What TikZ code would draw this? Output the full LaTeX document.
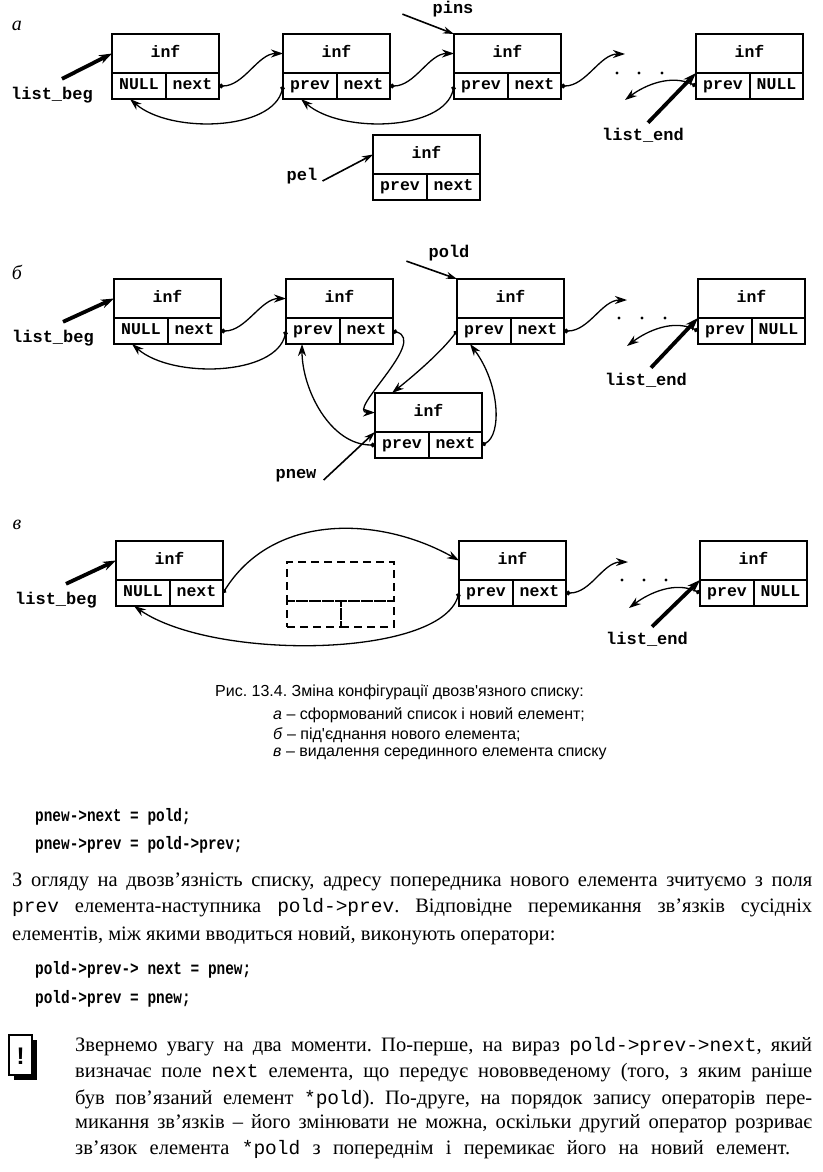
\documentclass[tikz,border=0pt]{standalone}
\usepackage{fontspec}
\setmainfont{Liberation Serif}
\newfontfamily\sansfnt{Liberation Sans}
\newfontfamily\monofnt{Liberation Mono}
\newfontfamily\listfnt[FakeStretch=0.8]{Liberation Mono}
\usetikzlibrary{arrows.meta,calc,positioning}
\newcommand\srcc[1]{{\monofnt\fontsize{19.5}{22}\selectfont #1}}
\frenchspacing

\begin{document}
\begin{tikzpicture}[x=1pt,y=-1pt,
  infbox/.style={draw,line width=2.4pt,minimum width=107pt,minimum height=39pt,
    inner sep=0pt,outer sep=0pt,anchor=north west,text height=10pt,text depth=3pt,
    font=\monofnt\bfseries\fontsize{16.5}{18}\selectfont},
  fldl/.style={infbox,minimum width=54pt,minimum height=26pt},
  fldr/.style={infbox,minimum width=53pt,minimum height=26pt},
  ghost/.style={dash pattern=on 8pt off 5pt},
  lbl/.style={font=\monofnt\bfseries\fontsize{17}{18}\selectfont,inner sep=0pt},
  tag/.style={font=\itshape\fontsize{20}{22}\selectfont,inner sep=0pt},
  link/.style={line width=1.3pt,{Circle[length=4.5pt]}-{Stealth[length=12pt,width=8pt]}},
  ptr/.style={line width=3.8pt,-{Stealth[length=13pt,width=9pt]}},
  ptrthin/.style={line width=1.6pt,-{Stealth[length=11pt,width=7pt]}},
  capt/.style={anchor=west,inner sep=0pt,font=\sansfnt\fontsize{16}{18}\selectfont},
  txt/.style={anchor=west,inner sep=0pt,font=\fontsize{20.5}{23}\selectfont},
  code/.style={anchor=west,inner sep=0pt,font=\listfnt\bfseries\fontsize{18}{20}\selectfont}]

  \useasboundingbox (0,0) rectangle (822,1172);

  % list elements: name / x / y / left field / right field
  \foreach \e/\x/\y/\l/\r in {a1/112/34/NULL/next, a2/283/34/prev/next,
      a3/454/34/prev/next, a4/696/34/prev/NULL, ap/373/135/prev/next,
      b1/114/279/NULL/next, b2/286/279/prev/next, b3/457/279/prev/next,
      b4/698/279/prev/NULL, bn/375/393/prev/next,
      c1/116/541/NULL/next, c3/459/541/prev/next, c4/700/541/prev/NULL} {
    \node[infbox] (\e) at (\x,\y) {inf};
    \node[fldl] (\e-l) at (\e.south west) {\l};
    \node[fldr] (\e-r) at (\e-l.north east) {\r};
  }

  % removed element
  \node[infbox,ghost] (cg) at (287,562) {};
  \node[fldl,ghost] (cg-l) at (cg.south west) {};
  \node[fldr,ghost] (cg-r) at (cg-l.north east) {};

  % dots
  \foreach \x/\y in {617/73,639/73,662/73,619/318,642/318,665/318,622/580,644/580,666/580}
    \fill (\x,\y) circle (1.6pt);

  \coordinate (aGapIn) at (625,54);  \coordinate (aGapOut) at (625,100);
  \coordinate (bGapIn) at (627,300); \coordinate (bGapOut) at (627,346);
  \coordinate (cGapIn) at (628,562); \coordinate (cGapOut) at (629,608);

  %% a
  \node[tag] (tagA) at (17,26) {а};
  \node[lbl] (lbA) at (52,95) {list\_beg};
  \node[lbl] (leA) at (643,135) {list\_end};
  \node[lbl] (pins) at (453,9) {pins};
  \node[lbl] (pel) at (302,176) {pel};
  \draw[ptr] ([xshift=10pt,yshift=8pt]lbA.north) -- (a1.west);
  \draw[ptr] ([xshift=5pt,yshift=5pt]leA.north) -- (a4.south west);
  \draw[ptrthin] ([xshift=-30pt,yshift=3pt]pins.south west) -- (a3.north west);
  \draw[ptrthin] ([xshift=5pt,yshift=-5pt]pel.east) -- (ap.west);

  \draw[link] (a1-r.east) .. controls +(25,0) and +(-25,0) .. (a2.west);
  \draw[link] (a2-l.west) .. controls +(-10,45) and +(40,35) .. ([xshift=-9pt]a1-l.south);
  \draw[link] (a2-r.east) .. controls +(25,0) and +(-25,0) .. (a3.west);
  \draw[link] (a3-l.west) .. controls +(-10,45) and +(40,35) .. ([xshift=-9pt]a2-l.south);
  \draw[link] (a3-r.east) .. controls +(25,0) and +(-25,0) .. (aGapIn);
  \draw[link] (a4-l.west) .. controls +(-25,-12) and +(20,-15) .. (aGapOut);

  %% b
  \node[tag] (tagB) at (17,272) {б};
  \node[lbl] (lbB) at (53,338) {list\_beg};
  \node[lbl] (leB) at (646,380) {list\_end};
  \node[lbl] (pold) at (449,253) {pold};
  \node[lbl] (pnew) at (296,476) {pnew};
  \draw[ptr] ([xshift=10pt,yshift=8pt]lbB.north) -- (b1.west);
  \draw[ptr] ([xshift=5pt,yshift=5pt]leB.north) -- (b4.south west);
  \draw[ptrthin] ([xshift=-22pt]pold.south west) -- (b3.north west);
  \draw[ptrthin] ([xshift=7pt,yshift=-4pt]pnew.east) -- (bn.south west);

  \draw[link] (b1-r.east) .. controls +(25,0) and +(-25,0) .. (b2.west);
  \draw[link] (b2-l.west) .. controls +(-10,45) and +(40,35) .. ([xshift=-9pt]b1-l.south);
  \draw[link] (b2-r.east) .. controls +(35,10) and +(-30,0) .. (bn.west);
  \draw[link] (b3-l.west) .. controls +(-15,20) and +(25,-20) .. ([xshift=17pt]bn.north west);
  \draw[link] (bn-r.east) .. controls +(20,-10) and +(30,40) .. ([xshift=-14pt]b3-l.south);
  \draw[link] (bn-l.west) .. controls +(-45,0) and +(0,45) .. ([xshift=-11pt]b2-l.south);
  \draw[link] (b3-r.east) .. controls +(25,0) and +(-25,0) .. (bGapIn);
  \draw[link] (b4-l.west) .. controls +(-25,-12) and +(20,-15) .. (bGapOut);

  %% c
  \node[tag] (tagC) at (17,525) {в};
  \node[lbl] (lbC) at (56,600) {list\_beg};
  \node[lbl] (leC) at (647,639) {list\_end};
  \draw[ptr] ([xshift=10pt,yshift=8pt]lbC.north) -- (c1.west);
  \draw[ptr] ([xshift=5pt,yshift=5pt]leC.north) -- (c4.south west);

  \draw[link] (c1-r.east) .. controls +(50,-80) and +(-80,-45) .. (c3.west);
  \draw[link] (c3-l.west) .. controls +(-20,65) and +(80,55) .. ([xshift=-9pt]c1-l.south);
  \draw[link] (c3-r.east) .. controls +(25,0) and +(-25,0) .. (cGapIn);
  \draw[link] (c4-l.west) .. controls +(-25,-12) and +(20,-15) .. (cGapOut);

  %% caption
  \node[capt] (cap1) at (215,692) {Рис. 13.4. Зміна конфігурації двозв'язного списку:};
  \node[capt] (cap2) at (273,715) {\textit{а} – сформований список і новий елемент;};
  \node[capt] (cap3) at (273,735) {\textit{б} – під'єднання нового елемента;};
  \node[capt] (cap4) at (273,754) {\textit{в} – видалення серединного елемента списку};

  %% text
  \node[code] (ln1) at (35,817) {pnew->next = pold;};
  \node[code] (ln2) at (35,845) {pnew->prev = pold->prev;};
  \node[txt] (par1) at (12,882) {\makebox[800pt][s]{З огляду на двозв’язність списку, адресу попередника нового елемента зчитуємо з поля}};
  \node[txt] (par2) at (12,908) {\makebox[800pt][s]{\srcc{prev} елемента-наступника \srcc{pold->prev}. Відповідне перемикання зв’язків сусідніх}};
  \node[txt] (par3) at (12,936) {елементів, між якими вводиться новий, виконують оператори:};
  \node[code] (ln3) at (35,970) {pold->prev-> next = pnew;};
  \node[code] (ln4) at (35,999) {pold->prev = pnew;};

  % note sign
  \fill (14,1040) rectangle (37,1080);
  \draw[fill=white,line width=1.2pt] (9,1035) rectangle (32,1075);
  \node[font=\sansfnt\bfseries\fontsize{24}{24}\selectfont] (bang) at (20.5,1056) {!};

  \node[txt] (nt1) at (75,1047) {\makebox[737pt][s]{Звернемо увагу на два моменти. По-перше, на вираз \srcc{pold->prev->next}, який}};
  \node[txt] (nt2) at (75,1073) {\makebox[737pt][s]{визначає поле \srcc{next} елемента, що передує нововведеному (того, з яким раніше}};
  \node[txt] (nt3) at (75,1099) {\makebox[737pt][s]{був пов’язаний елемент \srcc{*pold}). По-друге, на порядок запису операторів пере-}};
  \node[txt] (nt4) at (75,1124) {\makebox[737pt][s]{микання зв’язків – його змінювати не можна, оскільки другий оператор розриває}};
  \node[txt] (nt5) at (75,1150) {\makebox[715pt][s]{зв’язок елемента \srcc{*pold} з попереднім і перемикає його на новий елемент.}};

\end{tikzpicture}
\end{document}
